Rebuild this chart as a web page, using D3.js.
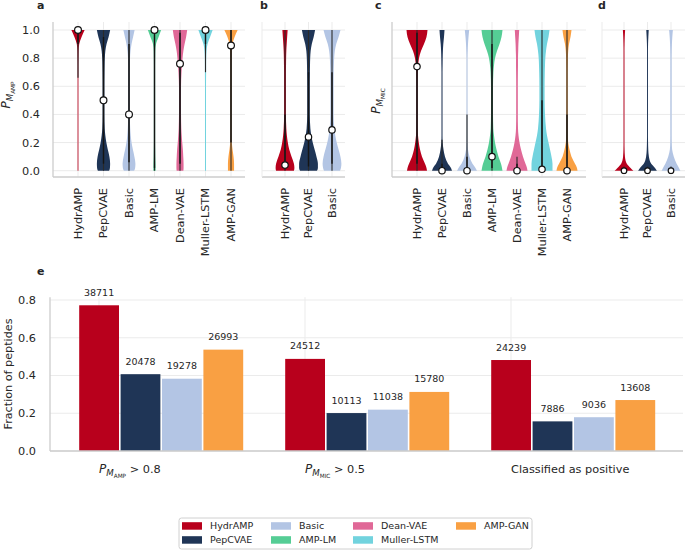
<!DOCTYPE html>
<html>
<head>
<meta charset="utf-8">
<script src="https://cdn.jsdelivr.net/npm/d3@7"></script>
<style>
  body { margin: 0; background: #fff; }
  svg { font-family: "DejaVu Sans", sans-serif; }
</style>
</head>
<body>
<svg id="chart"></svg>
<script>
const width = 685;
const height = 550;

// models and colours
const modelNames = ["HydrAMP", "PepCVAE", "Basic", "AMP-LM", "Dean-VAE", "Muller-LSTM", "AMP-GAN"];
const modelColors = ["#b8001c", "#1f3556", "#b3c5e4", "#55cd95", "#e06897", "#72d3de", "#f9a043"];
const subsetNames = ["HydrAMP", "PepCVAE", "Basic"];

const densityLevels = [0, 0.02, 0.05, 0.1, 0.15, 0.2, 0.25, 0.3, 0.4, 0.5, 0.6, 0.7, 0.75, 0.8, 0.85, 0.9, 0.95, 1];
const yTicks = [0, 0.2, 0.4, 0.6, 0.8, 1.0];

// panel a: P_M_AMP, all models
const densityA = [
  [0.4, 0.4, 0.4, 0.4, 0.4, 0.4, 0.4, 0.4, 0.4, 0.4, 0.4, 0.4, 0.4, 0.5, 0.6, 1.2, 3.5, 6.5],
  [5.5, 6.3, 6.5, 5.8, 4.2, 2.8, 1.8, 1.2, 0.9, 0.9, 0.9, 1.0, 1.1, 1.3, 1.8, 3.0, 5.0, 6.5],
  [5.0, 6.0, 6.3, 5.3, 3.8, 2.5, 1.7, 1.2, 0.8, 0.8, 0.8, 0.8, 0.9, 1.0, 1.5, 2.5, 4.0, 5.5],
  [1.2, 1.1, 1.0, 0.8, 0.7, 0.6, 0.6, 0.6, 0.6, 0.6, 0.6, 0.6, 0.6, 0.7, 0.8, 1.5, 4.0, 6.5],
  [3.3, 3.5, 3.5, 3.2, 2.8, 2.2, 1.7, 1.3, 1.0, 0.9, 1.0, 1.5, 2.0, 2.5, 3.3, 4.5, 6.0, 7.0],
  [0.5, 0.5, 0.5, 0.5, 0.5, 0.5, 0.5, 0.5, 0.5, 0.5, 0.5, 0.6, 0.6, 0.7, 1.0, 2.0, 4.5, 7.0],
  [3.0, 3.0, 3.0, 2.5, 1.5, 0.8, 0.6, 0.6, 0.6, 0.6, 0.6, 0.6, 0.6, 0.7, 0.9, 1.5, 3.5, 6.5]
];
const medianA = [1.0, 0.5, 0.40, 1.0, 0.76, 1.0, 0.89];
const whiskerA = [[0.66, 1], [0, 1], [0, 1], [0, 1], [0, 1], [0.7, 1], [0, 1]];
const boxA = [[0.9, 1], [0.05, 0.95], [0.06, 0.9], [0.02, 1], [0.05, 0.98], [0.9, 1], [0.2, 1]];

// panel b: P_M_AMP, subset
const densityB = [
  [9.5, 10, 9.5, 7, 4.5, 3, 2, 1.4, 1.0, 1.0, 1.0, 1.0, 1.1, 1.2, 1.4, 1.8, 2.3, 2.8],
  [9, 10, 10, 8.5, 6.5, 4.5, 3, 2, 1.4, 1.4, 1.4, 1.5, 1.6, 1.8, 2.3, 3.5, 5.5, 7],
  [8.5, 9.5, 10, 9, 7, 5, 3.5, 2.5, 1.7, 1.7, 1.7, 1.8, 2.0, 2.3, 3.0, 4.5, 7, 9]
];
const medianB = [0.04, 0.24, 0.29];
const whiskerB = [[0, 1], [0, 1], [0, 1]];
const boxB = [[0.01, 0.4], [0.03, 0.7], [0.05, 0.7]];

// panel c: P_M_MIC, all models
const densityC = [
  [10, 9.5, 8, 5, 3, 1.8, 1.0, 0.7, 0.6, 0.6, 0.6, 0.8, 1.2, 2, 4, 7, 9.5, 10.5],
  [10, 9, 6, 3, 1.5, 0.7, 0.5, 0.5, 0.5, 0.5, 0.5, 0.5, 0.6, 0.7, 0.9, 1.3, 2, 2.5],
  [10, 8.5, 5.5, 2.5, 1.0, 0.6, 0.5, 0.5, 0.5, 0.5, 0.5, 0.5, 0.5, 0.5, 0.7, 1, 1.5, 2.2],
  [10.5, 10, 9, 6.5, 4.5, 3, 2, 1.3, 1.0, 0.9, 1.0, 1.4, 2, 3, 5, 7.5, 9.5, 10.5],
  [10.5, 10, 8.5, 6, 4, 2.5, 1.5, 1.0, 0.8, 0.8, 0.8, 0.9, 1.0, 1.0, 1.2, 1.4, 1.8, 2.2],
  [10.5, 10.5, 10.5, 9.5, 8, 6.5, 5, 4, 3, 2.6, 2.6, 2.8, 3, 3.3, 4, 5, 6.5, 7.5],
  [10.5, 10, 8, 4.5, 2.5, 1.2, 0.8, 0.7, 0.7, 0.7, 0.7, 0.7, 0.8, 0.9, 1.2, 2, 3.5, 4.5]
];
const medianC = [0.74, 0.0, 0.0, 0.10, 0.0, 0.01, 0.0];
const whiskerC = [[0, 1], [0, 0.22], [0, 0.4], [0, 1], [0, 0.1], [0, 1], [0, 1]];
const boxC = [[0.05, 0.98], [0, 0.05], [0, 0.1], [0.02, 0.9], [0, 0.05], [0.01, 0.5], [0.01, 0.4]];

// panel d: P_M_MIC, subset
const densityD = [
  [10, 7, 3, 1.0, 0.6, 0.5, 0.5, 0.5, 0.5, 0.5, 0.5, 0.5, 0.5, 0.5, 0.5, 0.6, 0.8, 1.2],
  [10, 8, 4, 1.5, 0.8, 0.6, 0.5, 0.5, 0.5, 0.5, 0.5, 0.5, 0.5, 0.5, 0.5, 0.6, 0.9, 1.3],
  [10, 8.5, 6, 3, 1.2, 0.8, 0.7, 0.7, 0.7, 0.7, 0.7, 0.7, 0.7, 0.7, 0.8, 1.0, 1.4, 2]
];
const medianD = [0.0, 0.0, 0.0];
const whiskerD = [[0, 0.03], [0, 0.03], [0, 0.03]];
const boxD = [[0, 0.01], [0, 0.01], [0, 0.01]];

// panel e: bar chart
const barGroups = ["amp", "mic", "pos"];
const barModels = ["HydrAMP", "PepCVAE", "Basic", "AMP-GAN"];
const barFractions = [
  [0.772, 0.407, 0.383, 0.537],
  [0.488, 0.201, 0.219, 0.313],
  [0.482, 0.157, 0.179, 0.270]
];
const barCounts = [
  [38711, 20478, 19278, 26993],
  [24512, 10113, 11038, 15780],
  [24239, 7886, 9036, 13608]
];
const barTicks = [0, 0.2, 0.4, 0.6, 0.8];

const textColor = "#262626";
const gridColor = "#ebebeb";
const spineColor = "#cccccc";

const color = d3.scaleOrdinal().domain(modelNames).range(modelColors);

const svg = d3.select("#chart").attr("width", width).attr("height", height);

// subscripted probability label, e.g. P_{M_AMP}
function probLabel(sel, sub, fontSize) {
  sel.append("tspan").style("font-style", "italic").style("font-size", fontSize + "px").text("P");
  sel.append("tspan").style("font-style", "italic").style("font-size", (fontSize * 0.72) + "px")
    .attr("dy", fontSize * 0.25).text("M");
  sel.append("tspan").style("font-size", (fontSize * 0.48) + "px")
    .attr("dy", fontSize * 0.14).text(sub);
  return fontSize * 0.39;
}

// violin panels share the same vertical scale
const yV = d3.scaleLinear().domain([0, 1]).range([170.7, 30]);
const yBottom = 177;
const yTop = 22;

function violinPanel(o) {
  const g = svg.append("g");
  const x = d3.scalePoint().domain(o.names).range([o.first, o.last]);
  const step = x.step();
  const w = d3.scaleLinear().domain([0, 10.5]).range([0, 0.42 * step]);

  // grid
  g.selectAll(".hgrid").data(yTicks).enter().append("line")
    .attr("x1", o.left).attr("x2", o.right)
    .attr("y1", (d) => yV(d)).attr("y2", (d) => yV(d))
    .attr("stroke", gridColor).attr("stroke-width", 1);
  g.selectAll(".vgrid").data(o.names).enter().append("line")
    .attr("x1", (d) => x(d)).attr("x2", (d) => x(d))
    .attr("y1", yTop).attr("y2", yBottom)
    .attr("stroke", gridColor).attr("stroke-width", 1);

  // spines
  g.append("line").attr("x1", o.left).attr("x2", o.right).attr("y1", yBottom).attr("y2", yBottom)
    .attr("stroke", spineColor).attr("stroke-width", 1.3);
  g.append("line").attr("x1", o.left).attr("x2", o.left).attr("y1", yTop).attr("y2", yBottom)
    .attr("stroke", o.leftSpine ? spineColor : gridColor).attr("stroke-width", o.leftSpine ? 1.3 : 1);

  // violins
  o.names.forEach((name, i) => {
    const cx = x(name);
    const pts = densityLevels.map((v, j) => ({ v: v, d: o.density[i][j] }));
    const area = d3.area()
      .y((d) => yV(d.v))
      .x0((d) => cx - w(d.d))
      .x1((d) => cx + w(d.d))
      .curve(d3.curveMonotoneY);
    g.append("path").attr("d", area(pts)).attr("fill", color(name));

    g.append("line").attr("x1", cx).attr("x2", cx)
      .attr("y1", yV(o.whisker[i][0])).attr("y2", yV(o.whisker[i][1]))
      .attr("stroke", "#2a2a2a").attr("stroke-width", 1.1);
    g.append("line").attr("x1", cx).attr("x2", cx)
      .attr("y1", yV(o.box[i][0])).attr("y2", yV(o.box[i][1]))
      .attr("stroke", "#151515").attr("stroke-width", 1.4);
    g.append("circle").attr("cx", cx).attr("cy", yV(o.median[i]))
      .attr("r", o.r).attr("fill", "#fff").attr("stroke", "#111").attr("stroke-width", 1.2);
  });

  // x tick labels
  g.selectAll(".xlab").data(o.names).enter().append("text")
    .attr("transform", (d) => `translate(${x(d)},188) rotate(-90)`)
    .attr("dy", "0.35em")
    .attr("text-anchor", "end")
    .style("font-size", "11.3px")
    .style("fill", textColor)
    .text((d) => d);

  if (o.yLabels) {
    g.selectAll(".ylab").data(yTicks).enter().append("text")
      .attr("x", 40).attr("y", (d) => yV(d)).attr("dy", "0.35em")
      .attr("text-anchor", "end").style("font-size", "11.3px").style("fill", textColor)
      .text((d) => d3.format(".1f")(d));
  }
  if (o.title) {
    const t = g.append("text")
      .attr("transform", `translate(${o.titleX},${o.titleY}) rotate(-90)`)
      .attr("text-anchor", "middle").style("fill", textColor);
    probLabel(t, o.title, 12);
  }
  svg.append("text").attr("x", o.letterX).attr("y", 9)
    .style("font-weight", "bold").style("font-size", "11px").style("fill", textColor).text(o.letter);
}

violinPanel({ names: modelNames, first: 78, last: 231, left: 53, right: 245, leftSpine: true,
  density: densityA, median: medianA, whisker: whiskerA, box: boxA, r: 3.4,
  yLabels: true, title: "AMP", titleX: 10, titleY: 95, letter: "a", letterX: 37 });
violinPanel({ names: subsetNames, first: 285, last: 332, left: 262, right: 345, leftSpine: false,
  density: densityB, median: medianB, whisker: whiskerB, box: boxB, r: 3.2,
  yLabels: false, letter: "b", letterX: 260 });
violinPanel({ names: modelNames, first: 417, last: 567, left: 392, right: 586, leftSpine: true,
  density: densityC, median: medianC, whisker: whiskerC, box: boxC, r: 3.2,
  yLabels: false, title: "MIC", titleX: 380, titleY: 101, letter: "c", letterX: 375 });
violinPanel({ names: subsetNames, first: 624, last: 671, left: 602, right: 685, leftSpine: false,
  density: densityD, median: medianD, whisker: whiskerD, box: boxD, r: 2.8,
  yLabels: false, letter: "d", letterX: 598 });

// ---------- panel e ----------
const eLeft = 50, eRight = 683;
const yE = d3.scaleLinear().domain([0, 0.8]).range([451, 300]);
const eTop = yE(0.815);
const x0 = d3.scalePoint().domain(barGroups).range([99, 511]);
const x1 = d3.scaleBand().domain(barModels).range([-20.6, 145]);

const ge = svg.append("g");
ge.selectAll(".hgrid").data(barTicks).enter().append("line")
  .attr("x1", eLeft).attr("x2", eRight)
  .attr("y1", (d) => yE(d)).attr("y2", (d) => yE(d))
  .attr("stroke", gridColor).attr("stroke-width", 1);
ge.selectAll(".vgrid").data(barGroups).enter().append("line")
  .attr("x1", (d) => x0(d)).attr("x2", (d) => x0(d))
  .attr("y1", eTop).attr("y2", yE(0))
  .attr("stroke", gridColor).attr("stroke-width", 1);

barGroups.forEach((grp, gi) => {
  const bg = ge.append("g").attr("transform", `translate(${x0(grp)},0)`);
  bg.selectAll("rect").data(barModels).enter().append("rect")
    .attr("x", (d) => x1(d) + 0.8)
    .attr("width", x1.bandwidth() - 1.6)
    .attr("y", (d, i) => yE(barFractions[gi][i]))
    .attr("height", (d, i) => yE(0) - yE(barFractions[gi][i]))
    .attr("fill", (d) => color(d));
  bg.selectAll("text").data(barModels).enter().append("text")
    .attr("x", (d) => x1(d) + x1.bandwidth() / 2)
    .attr("y", (d, i) => yE(barFractions[gi][i]) - 9.5)
    .attr("text-anchor", "middle")
    .style("font-size", "9.5px").style("fill", textColor)
    .text((d, i) => barCounts[gi][i]);
});

ge.append("line").attr("x1", eLeft).attr("x2", eRight).attr("y1", yE(0)).attr("y2", yE(0))
  .attr("stroke", spineColor).attr("stroke-width", 1.3);
ge.append("line").attr("x1", eLeft).attr("x2", eLeft).attr("y1", eTop).attr("y2", yE(0))
  .attr("stroke", spineColor).attr("stroke-width", 1.3);

ge.selectAll(".ylab").data(barTicks).enter().append("text")
  .attr("x", 36).attr("y", (d) => yE(d)).attr("dy", "0.35em")
  .attr("text-anchor", "end").style("font-size", "11.3px").style("fill", textColor)
  .text((d) => d3.format(".1f")(d));

ge.append("text")
  .attr("transform", "translate(12,374) rotate(-90)")
  .attr("text-anchor", "middle").style("font-size", "11.2px").style("fill", textColor)
  .text("Fraction of peptides");

// group labels, left aligned at the tick
const labAmp = ge.append("text").attr("x", x0("amp")).attr("y", 473).style("fill", textColor);
let back = probLabel(labAmp, "AMP", 12);
labAmp.append("tspan").attr("dy", -back).style("font-size", "11.3px").text(" > 0.8");
const labMic = ge.append("text").attr("x", x0("mic")).attr("y", 473).style("fill", textColor);
back = probLabel(labMic, "MIC", 12);
labMic.append("tspan").attr("dy", -back).style("font-size", "11.3px").text(" > 0.5");
ge.append("text").attr("x", x0("pos")).attr("y", 473)
  .style("font-size", "11.3px").style("fill", textColor).text("Classified as positive");

svg.append("text").attr("x", 37).attr("y", 275)
  .style("font-weight", "bold").style("font-size", "11px").style("fill", textColor).text("e");

// ---------- legend ----------
const legend = svg.append("g");
legend.append("rect").attr("x", 179).attr("y", 518).attr("width", 353).attr("height", 31)
  .attr("rx", 2.5).attr("fill", "#fff").attr("stroke", "#d0d0d0").attr("stroke-width", 1);
const legCols = [182, 271, 353, 456];
const legRows = [526, 540];
const items = legend.selectAll(".item").data(modelNames).enter().append("g")
  .attr("transform", (d, i) => `translate(${legCols[Math.floor(i / 2)]},${legRows[i % 2]})`);
items.append("rect").attr("x", 0).attr("y", -3.8).attr("width", 20).attr("height", 7.5)
  .attr("fill", (d) => color(d));
items.append("text").attr("x", 28).attr("y", 0).attr("dy", "0.35em")
  .style("font-size", "9.5px").style("fill", textColor).text((d) => d);
</script>
</body>
</html>
